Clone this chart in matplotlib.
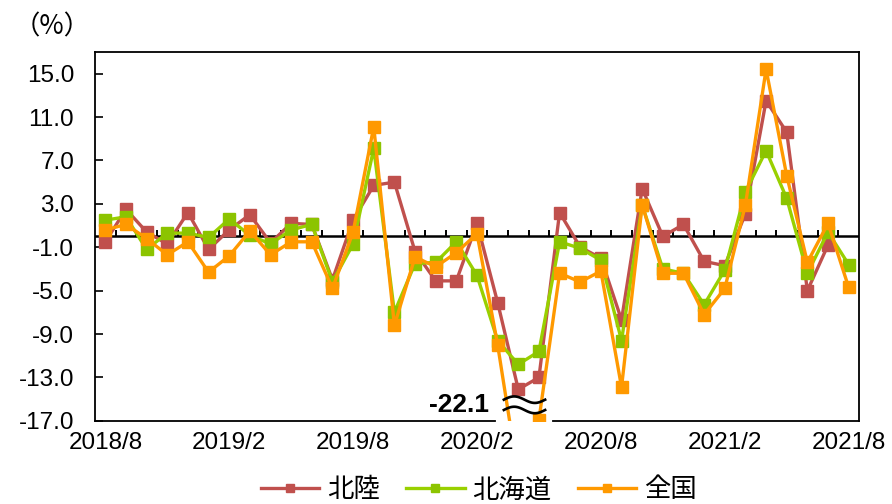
import numpy as np
import matplotlib.pyplot as plt

# monthly year-on-year change (%), 2018/8 - 2021/8
months = ['2018/8', '2018/9', '2018/10', '2018/11', '2018/12', '2019/1',
          '2019/2', '2019/3', '2019/4', '2019/5', '2019/6', '2019/7',
          '2019/8', '2019/9', '2019/10', '2019/11', '2019/12', '2020/1',
          '2020/2', '2020/3', '2020/4', '2020/5', '2020/6', '2020/7',
          '2020/8', '2020/9', '2020/10', '2020/11', '2020/12', '2021/1',
          '2021/2', '2021/3', '2021/4', '2021/5', '2021/6', '2021/7',
          '2021/8']

hokuriku = [-0.5, 2.5, 0.4, -0.7, 2.2, -1.2, 0.6, 2.0, -0.6, 1.2, 1.1, -4.0,
            1.5, 4.7, 5.0, -1.4, -4.1, -4.1, 1.2, -6.1, -14.1, -13.0, 2.2, -1.0,
            -2.0, -7.7, 4.4, 0.0, 1.1, -2.3, -2.7, 2.1, 12.5, 9.6, -5.0, -0.8,
            np.nan]
hokkaido = [1.5, 1.8, -1.2, 0.3, 0.3, -0.1, 1.6, 0.1, -0.7, 0.6, 1.1, -4.2,
            -0.7, 8.1, -7.0, -2.5, -2.4, -0.5, -3.6, -9.6, -11.8, -10.6, -0.5, -1.1,
            -2.2, -9.6, 2.9, -3.0, -3.4, -6.3, -3.1, 4.1, 7.9, 3.5, -3.4, 0.4,
            -2.6]
zenkoku = [0.6, 1.1, -0.2, -1.7, -0.5, -3.3, -1.8, 0.5, -1.7, -0.5, -0.5, -4.8,
           0.4, 10.1, -8.2, -1.9, -2.8, -1.5, 0.25, -10.0, -22.1, -16.9, -3.4, -4.2,
           -3.2, -13.9, 2.9, -3.4, -3.4, -7.2, -4.8, 2.9, 15.4, 5.6, -2.4, 1.2,
           -4.7]

yticks = [15.0, 11.0, 7.0, 3.0, -1.0, -5.0, -9.0, -13.0, -17.0]
label_months = months[::6]
low_value = -22.1

plt.rcParams['font.family'] = ['Liberation Sans', 'Noto Sans CJK JP']
cjk = ['Noto Sans CJK JP', 'DejaVu Sans']

fig = plt.figure(figsize=(8.92, 5.04), dpi=100)
ax = fig.add_axes([0.1065, 0.165, 0.8565, 0.732])

x = np.arange(len(months))
ax.plot(x, hokuriku, color='#C0504D', lw=2.4, marker='s', ms=8, label='北陸', zorder=3)
ax.plot(x, hokkaido, color='#99D000', lw=2.4, marker='s', ms=8,
        mfc='#8CC400', mec='#8CC400', label='北海道', zorder=4)
ax.plot(x, zenkoku, color='#FF9900', lw=2.4, marker='s', ms=8, label='全国', zorder=5)

ax.set_xlim(-0.5, len(months) - 0.5)
ax.set_ylim(-17, 17)
ax.set_yticks(yticks)
ax.set_yticklabels([f'{v:.1f}' for v in yticks])
ax.tick_params(axis='y', direction='in', length=6, width=1.2, labelsize=17.5, pad=15)

ax.set_xticks(x[::6])
ax.set_xticklabels(label_months)
ax.tick_params(axis='x', length=0, labelsize=17.5, pad=8)

# zero line with category ticks pointing up
ax.axhline(0, color='black', lw=1.8, zorder=2)
ax.vlines(np.arange(len(months) - 1) + 0.5, 0, 0.62, color='black', lw=1.4, zorder=2)

for s in ['top', 'right', 'left']:
    ax.spines[s].set_linewidth(1.3)
ax.spines['bottom'].set_visible(False)

# bottom axis line with a gap for the off-scale value
ax.plot([-0.5, 18.85], [-17, -17], color='black', lw=1.3, clip_on=False, zorder=6)
ax.plot([21.7, len(months) - 0.5], [-17, -17], color='black', lw=1.3, clip_on=False, zorder=6)

t = np.linspace(0, 1, 60)
wx = 19.3 + 2.0 * t
for y0 in (-15.05, -16.0):
    ax.plot(wx, y0 + 0.3 * np.sin(2 * np.pi * t), color='black', lw=1.9,
            clip_on=False, zorder=7)
ax.text(18.6, -15.55, f'{low_value:.1f}', ha='right', va='center',
        fontsize=19, fontweight='bold')

fig.text(0.058, 0.946, '（%）', family=cjk, fontsize=19, ha='center', va='center')

leg = fig.legend(loc='center', bbox_to_anchor=(0.537, 0.028), ncol=3, frameon=False,
                 prop={'family': cjk, 'size': 19}, handlelength=2.2,
                 handletextpad=0.3, columnspacing=1.0, markerscale=0.8)

fig.savefig('out.png', dpi=100)
